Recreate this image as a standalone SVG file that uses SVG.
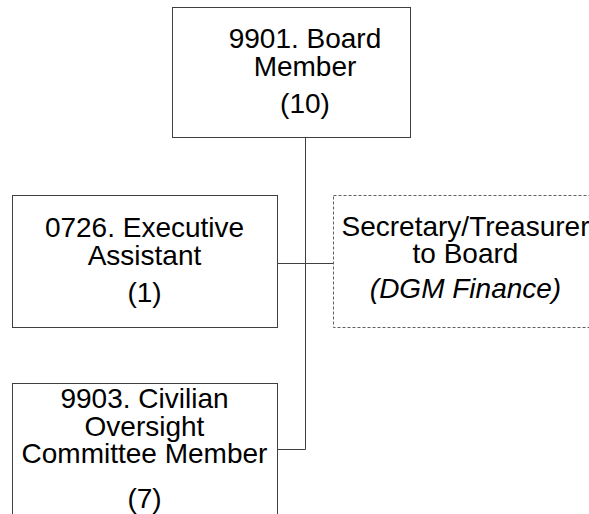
<svg xmlns="http://www.w3.org/2000/svg" width="589" height="514" viewBox="0 0 589 514">
<style>
.box{fill:#fff;stroke:#404040;stroke-width:1}
.dash{fill:#fff;stroke:#606060;stroke-width:1;stroke-dasharray:3 2}
.t{font-family:"Liberation Sans",Arial,sans-serif;font-size:28px;fill:#000;text-anchor:middle}
.i{font-style:italic}
.c{stroke:#404040;stroke-width:1;fill:none}
</style>
<rect width="589" height="514" fill="#fff"/>
<g id="connectors">
<path class="c" d="M305.5 137.5V449.5M277.5 263.5H333.5M277.5 449.5H305.5"/>
</g>
<g id="n9901">
<rect class="box" x="172.5" y="7.5" width="238" height="130"/>
<text class="t" x="305" y="48">9901. Board</text>
<text class="t" x="305" y="76">Member</text>
<text class="t" x="305" y="113">(10)</text>
</g>
<g id="n0726">
<rect class="box" x="12.5" y="195.5" width="265" height="132"/>
<text class="t" x="144.5" y="237">0726. Executive</text>
<text class="t" x="144.5" y="265">Assistant</text>
<text class="t" x="144.5" y="302">(1)</text>
</g>
<g id="nSecretary">
<rect class="dash" x="333.5" y="195.5" width="265" height="132"/>
<text class="t" x="465.5" y="236">Secretary/Treasurer</text>
<text class="t" x="465.5" y="263">to Board</text>
<text class="t i" x="465.5" y="298">(DGM Finance)</text>
</g>
<g id="n9903">
<rect class="box" x="12.5" y="383.5" width="265" height="140"/>
<text class="t" x="144.5" y="408">9903. Civilian</text>
<text class="t" x="144.5" y="435.5">Oversight</text>
<text class="t" x="144.5" y="463">Committee Member</text>
<text class="t" x="144.5" y="508">(7)</text>
</g>
</svg>
